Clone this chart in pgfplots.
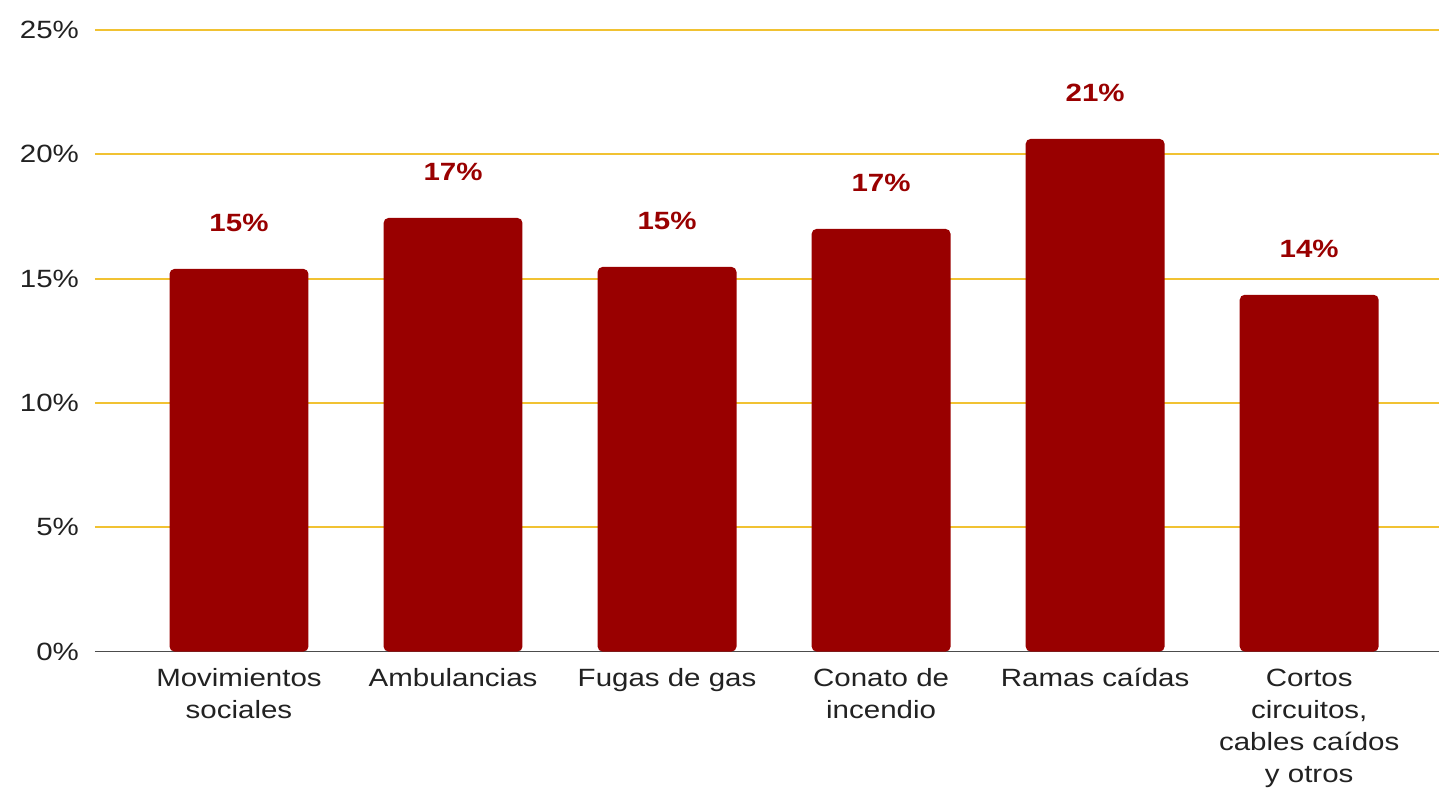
\documentclass[border=0pt]{standalone}
\usepackage{pgfplots}
\pgfplotsset{compat=1.18}
\usepackage{fontspec}
\setmainfont{Liberation Sans}[FakeStretch=1.18]
\definecolor{barred}{HTML}{990000}
\definecolor{gridgold}{HTML}{F1C232}
\definecolor{txt}{HTML}{222222}
\begin{document}
\begin{tikzpicture}
\begin{axis}[
  scale only axis,
  width=672.5pt, height=311pt,
  ybar, bar width=69.5pt,
  xmin=-0.673, xmax=5.607,
  ymin=0, ymax=25,
  ytick={0,5,10,15,20,25},
  yticklabel={\pgfmathprintnumber{\tick}\%},
  /pgf/number format/assume math mode=true,
  xtick={0,1,2,3,4,5},
  xticklabels={{\strut Movimientos\\sociales},{\strut Ambulancias},{\strut Fugas de gas},{\strut Conato de\\incendio},{\strut Ramas caídas},{\strut Cortos\\circuitos,\\cables caídos\\y otros}},
  major tick length=0pt,
  axis x line*=bottom,
  axis y line*=left,
  y axis line style={draw=none},
  x axis line style={color=black!70, line width=0.8pt, -},
  ymajorgrids,
  grid style={color=gridgold, line width=0.9pt},
  tick label style={font={\fontsize{12.5}{16}\selectfont}, text=txt},
  yticklabel style={xshift=-4.5pt},
  xticklabel style={align=center, anchor=north, yshift=-2.6pt},
  nodes near coords={\pgfmathprintnumber[fixed,precision=0]{\pgfplotspointmeta}\%},
  nodes near coords style={font={\bfseries\fontsize{12.5}{15}\selectfont}, text=barred, anchor=base, inner sep=0pt, yshift=18.5pt},
  clip=false,
]
\addplot[fill=barred, draw=none, rounded corners=2.5pt] coordinates {
  (0,15.39) (1,17.44) (2,15.47) (3,17.0) (4,20.62) (5,14.35)
};
\coordinate (bl) at (rel axis cs:0,0);
\coordinate (tr) at (rel axis cs:1,1);
\end{axis}
\path (bl) ++(-47.5pt,-68.5pt);
\path (tr) ++(0,15pt);
\end{tikzpicture}
\end{document}
